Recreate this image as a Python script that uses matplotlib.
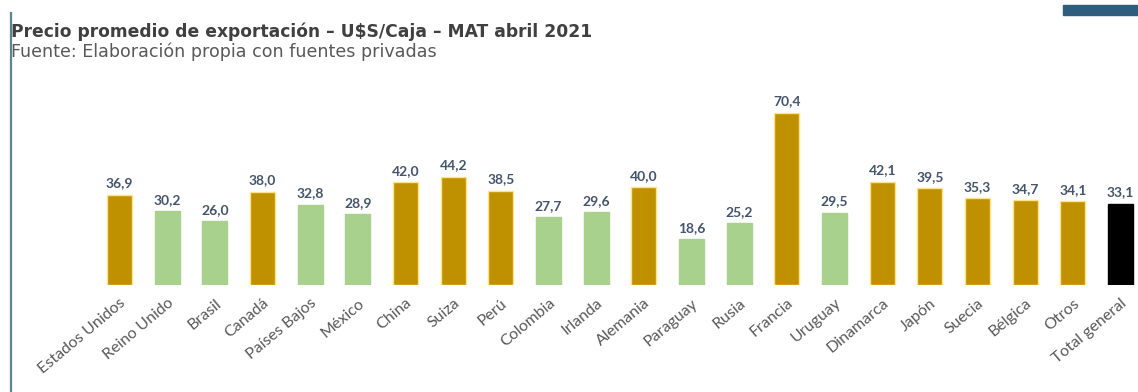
import matplotlib.pyplot as plt
from matplotlib.patches import Rectangle
from matplotlib.lines import Line2D

# Data
paises = ['Estados Unidos', 'Reino Unido', 'Brasil', 'Canadá', 'Países Bajos', 'México',
          'China', 'Suiza', 'Perú', 'Colombia', 'Irlanda', 'Alemania', 'Paraguay', 'Rusia',
          'Francia', 'Uruguay', 'Dinamarca', 'Japón', 'Suecia', 'Bélgica', 'Otros',
          'Total general']
precios = [36.9, 30.2, 26.0, 38.0, 32.8, 28.9, 42.0, 44.2, 38.5, 27.7, 29.6, 40.0,
           18.6, 25.2, 70.4, 29.5, 42.1, 39.5, 35.3, 34.7, 34.1, 33.1]
# 'alto' = above average (gold), 'bajo' = below (green), 'total' = black
grupo = ['alto', 'bajo', 'bajo', 'alto', 'bajo', 'bajo', 'alto', 'alto', 'alto', 'bajo',
         'bajo', 'alto', 'bajo', 'bajo', 'alto', 'bajo', 'alto', 'alto', 'alto', 'alto',
         'alto', 'total']

colores = {'alto': '#BF9000', 'bajo': '#A9D18E', 'total': '#000000'}
bordes = {'alto': '#FFE38A', 'bajo': '#A9D18E', 'total': '#000000'}

plt.rcParams['font.family'] = ['Lato', 'DejaVu Sans']

fig = plt.figure(figsize=(11.38, 3.92), dpi=100)
fig.patch.set_facecolor('white')

# Axes placed so bar centres and baseline match the reference
ax = fig.add_axes([0.0841, 0.273, 0.9215, 0.50])
x = list(range(len(paises)))
ax.bar(x, precios, width=0.52,
       color=[colores[g] for g in grupo],
       edgecolor=[bordes[g] for g in grupo], linewidth=1.0)

for xi, v in zip(x, precios):
    ax.text(xi, v + 2.2, f'{v:.1f}'.replace('.', ','), ha='center', va='bottom',
            fontsize=10, fontweight='bold', color='#44546A')

ax.set_xlim(-0.5, len(paises) - 0.5)
ax.set_ylim(0, 80)
ax.set_xticks(x)
ax.set_xticklabels(paises, rotation=40, ha='right', rotation_mode='anchor',
                   fontsize=11.5, color='#595959')
ax.tick_params(axis='x', length=0, pad=8)
ax.set_yticks([])
for s in ax.spines.values():
    s.set_visible(False)

# Title and subtitle
fig.text(0.0095, 0.918, 'Precio promedio de exportación – U$S/Caja – MAT abril 2021',
         fontsize=12.3, fontweight='bold', color='#404040', ha='left', va='center',
         family=['DejaVu Sans'])
fig.text(0.0095, 0.868, 'Fuente: Elaboración propia con fuentes privadas',
         fontsize=12.6, color='#595959', ha='left', va='center',
         family=['DejaVu Sans'])

# Decorations: left rule and top-right block
fig.add_artist(Line2D([0.0097, 0.0097], [0.0, 0.967], color='#5B8590', linewidth=1.6))
fig.add_artist(Rectangle((0.934, 0.962), 0.066, 0.026, color='#2E5E7E',
                         transform=fig.transFigure))

fig.savefig('out.png', dpi=100)
